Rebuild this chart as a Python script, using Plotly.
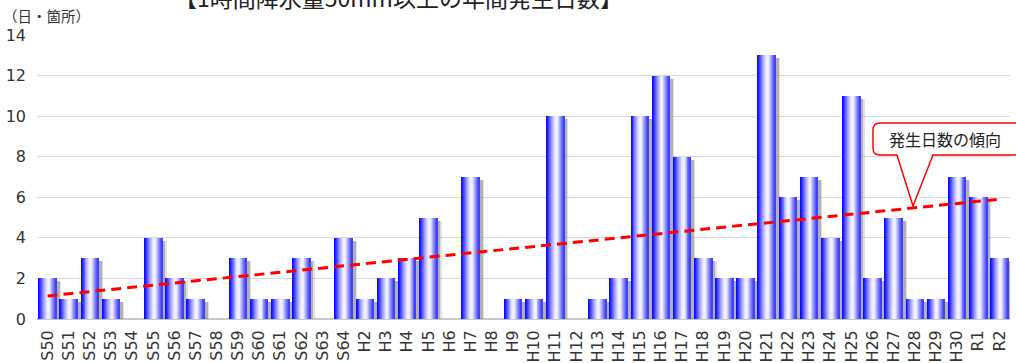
import numpy as np
import plotly.graph_objects as go

# 年度ラベルと年間発生日数
years = ["S50", "S51", "S52", "S53", "S54", "S55", "S56", "S57", "S58", "S59",
         "S60", "S61", "S62", "S63", "S64", "H2", "H3", "H4", "H5", "H6",
         "H7", "H8", "H9", "H10", "H11", "H12", "H13", "H14", "H15", "H16",
         "H17", "H18", "H19", "H20", "H21", "H22", "H23", "H24", "H25", "H26",
         "H27", "H28", "H29", "H30", "R1", "R2"]
days = [2, 1, 3, 1, 0, 4, 2, 1, 0, 3,
        1, 1, 3, 0, 4, 1, 2, 3, 5, 0,
        7, 0, 1, 1, 10, 0, 1, 2, 10, 12,
        8, 3, 2, 2, 13, 6, 7, 4, 11, 2,
        5, 1, 1, 7, 6, 3]
y_ticks = [0, 2, 4, 6, 8, 10, 12, 14]

W, H = 1016, 363
ML, MR, MT, MB = 37, 6, 35, 44
PW, PH = W - ML - MR, H - MT - MB

FONT = "Noto Sans CJK JP"
TICK_FONT = "DejaVu Sans"

fig = go.Figure()

# drop shadow behind each bar
BAR_W = 0.83
half = BAR_W / 2
for dx, col in [(0.21, "rgba(170,170,170,0.35)"), (0.15, "rgba(130,130,130,0.5)")]:
    fig.add_trace(go.Bar(
        x=years, y=[max(v - 0.15, 0) for v in days],
        width=BAR_W, offset=-half + dx,
        marker=dict(color=col, line=dict(width=0)),
        hoverinfo="skip", showlegend=False,
    ))

# cylinder-like horizontal gradient: blue edges, white highlight right of centre
stops = [(0.0, (0, 0, 255)), (0.1, (40, 40, 255)), (0.3, (150, 150, 255)),
         (0.5, (236, 236, 255)), (0.62, (246, 246, 255)), (0.8, (150, 150, 255)),
         (1.0, (50, 50, 255))]


def grad(t):
    for (t0, c0), (t1, c1) in zip(stops[:-1], stops[1:]):
        if t0 <= t <= t1:
            f = (t - t0) / (t1 - t0)
            return "rgb(%d,%d,%d)" % tuple(round(a + (b - a) * f) for a, b in zip(c0, c1))
    return "rgb(%d,%d,%d)" % stops[-1][1]


N = 18
sw = BAR_W / N
for i in range(N):
    fig.add_trace(go.Bar(
        x=years, y=days,
        width=sw * 1.08, offset=-half + i * sw,
        marker=dict(color=grad((i + 0.5) / N), line=dict(width=0)),
        hoverinfo="skip", showlegend=False,
    ))

# linear trend of yearly counts
idx = np.arange(len(days))
slope, icpt = np.polyfit(idx, days, 1)
fig.add_trace(go.Scatter(
    x=years, y=slope * idx + icpt, mode="lines",
    line=dict(color="#ff0000", width=3, dash="10px,6px"),
    hoverinfo="skip", showlegend=False,
))


def px(xp):
    return (xp - ML) / PW


def py(yp):
    return (H - MB - yp) / PH


# callout box for the trend line
r = 7
x0, x1, y0, y1 = 873, 1030, 123, 155
pts = [
    ("M", [(x0 + r, y0)]), ("L", [(x1, y0)]), ("L", [(x1, y1)]),
    ("L", [(933, y1)]), ("L", [(913, 206)]), ("L", [(897, y1)]),
    ("L", [(x0 + r, y1)]), ("Q", [(x0, y1), (x0, y1 - r)]),
    ("L", [(x0, y0 + r)]), ("Q", [(x0, y0), (x0 + r, y0)]),
]
path = " ".join(cmd + " " + " ".join("%.5f,%.5f" % (px(a), py(b)) for a, b in p)
                for cmd, p in pts) + " Z"
fig.add_shape(type="path", path=path, xref="paper", yref="paper",
              fillcolor="white", line=dict(color="#ff0000", width=1.5), layer="above")
fig.add_annotation(text="発生日数の傾向", xref="paper", yref="paper",
                   x=px(945), y=py(139), xanchor="center", yanchor="middle",
                   showarrow=False,
                   font=dict(family=FONT, size=16, color="#222222"))

# chart title (partly above the page edge) and unit label
fig.add_annotation(text="【1時間降水量50mm以上の年間発生日数】", xref="paper", yref="paper",
                   x=px(172), y=py(-3), xanchor="left", yanchor="middle",
                   showarrow=False, font=dict(family=FONT, size=23, color="#222222"))
fig.add_annotation(text="（日・箇所）", xref="paper", yref="paper",
                   x=px(1), y=py(15), xanchor="left", yanchor="middle",
                   showarrow=False, font=dict(family=FONT, size=14.5, color="#333333"))

fig.update_layout(
    width=W, height=H,
    margin=dict(l=ML, r=MR, t=MT, b=MB, pad=0, autoexpand=False),
    barmode="overlay", bargap=0,
    paper_bgcolor="white", plot_bgcolor="white",
    font=dict(family=FONT, color="#333333"),
    xaxis=dict(
        type="category", categoryorder="array", categoryarray=years,
        range=[-0.5, len(years) - 0.5], automargin=False,
        tickangle=-90, tickfont=dict(family=TICK_FONT, size=16, color="#333333"),
        showgrid=False, showline=False, zeroline=False, ticks="",
        ticklabelstandoff=7,
    ),
    yaxis=dict(
        range=[0, 14], tickvals=y_ticks, automargin=False,
        tickfont=dict(family=TICK_FONT, size=16, color="#333333"),
        showgrid=True, gridcolor="#d9d9d9", gridwidth=1,
        zeroline=True, zerolinecolor="#c8c8c8", zerolinewidth=1.5,
        showline=False, ticks="", ticklabelstandoff=10,
    ),
)

fig.write_html("out.html")
